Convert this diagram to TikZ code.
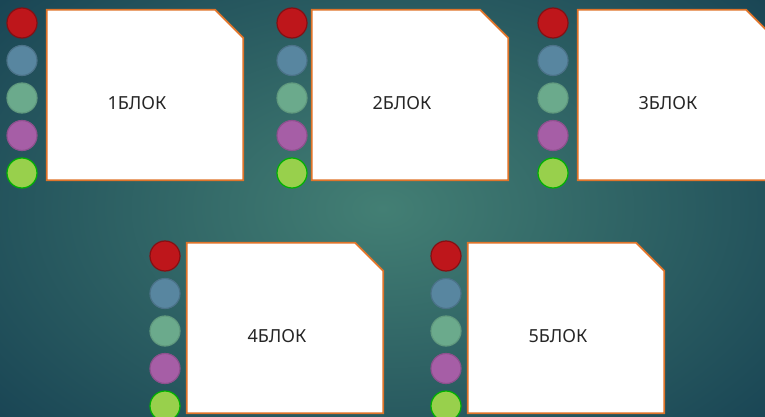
\documentclass[tikz,border=0pt]{standalone}
\usepackage{fontspec}
\setmainfont{Noto Sans}
\usetikzlibrary{positioning}
\definecolor{bginner}{HTML}{437F74}
\definecolor{bgouter}{HTML}{1A4655}
\definecolor{blokedge}{HTML}{E0742A}
\definecolor{dred}{HTML}{BE161B}
\definecolor{dblue}{HTML}{5886A0}
\definecolor{dgreen}{HTML}{6BAA8C}
\definecolor{dpurple}{HTML}{A65EA6}
\definecolor{dlime}{HTML}{98D04C}

\begin{document}
\begin{tikzpicture}[x=1pt, y=-1pt,
    blok/.style={rectangle, minimum width=196pt, minimum height=170pt, inner sep=0pt},
    blokline/.style={draw=blokedge, line width=1.8pt, fill=white, line join=miter},
    dot/.style={circle, minimum size=30pt, inner sep=0pt, line width=1.2pt},
    lbl/.style={font=\fontsize{18}{20}\selectfont, text=black!85}
]
\useasboundingbox (0,0) rectangle (765,417);
\clip (0,0) rectangle (765,417);
\shade[inner color=bginner, outer color=bgouter] (-120,-110) rectangle (885,527);

% blocks: number / left / top / x of the dot column
\foreach \n/\bx/\by/\cx in {1/47/10/22, 2/312/10/292, 3/578/10/553, 4/187/243/165, 5/468/243/446}{
    \node[blok] (b\n) at (\bx+98, \by+85) {};
    \draw[blokline] (b\n.south west) -- (b\n.north west) -- ([xshift=-28pt]b\n.north east)
        -- ([yshift=-28pt]b\n.north east) -- (b\n.south east) -- cycle;
    \node[lbl] (t\n) at (\bx+90, \by+93) {{\n}БЛОК};
    \foreach \c/\e [count=\i] in {dred/dred!70!black, dblue/dblue!85!black, dgreen/dgreen!90!black, dpurple/dpurple!85!black, dlime/green!70!black}
        \node[dot, fill=\c, draw=\e] (d\n-\i) at (\cx, {\by+13+37.5*(\i-1)}) {};
}
\end{tikzpicture}
\end{document}
